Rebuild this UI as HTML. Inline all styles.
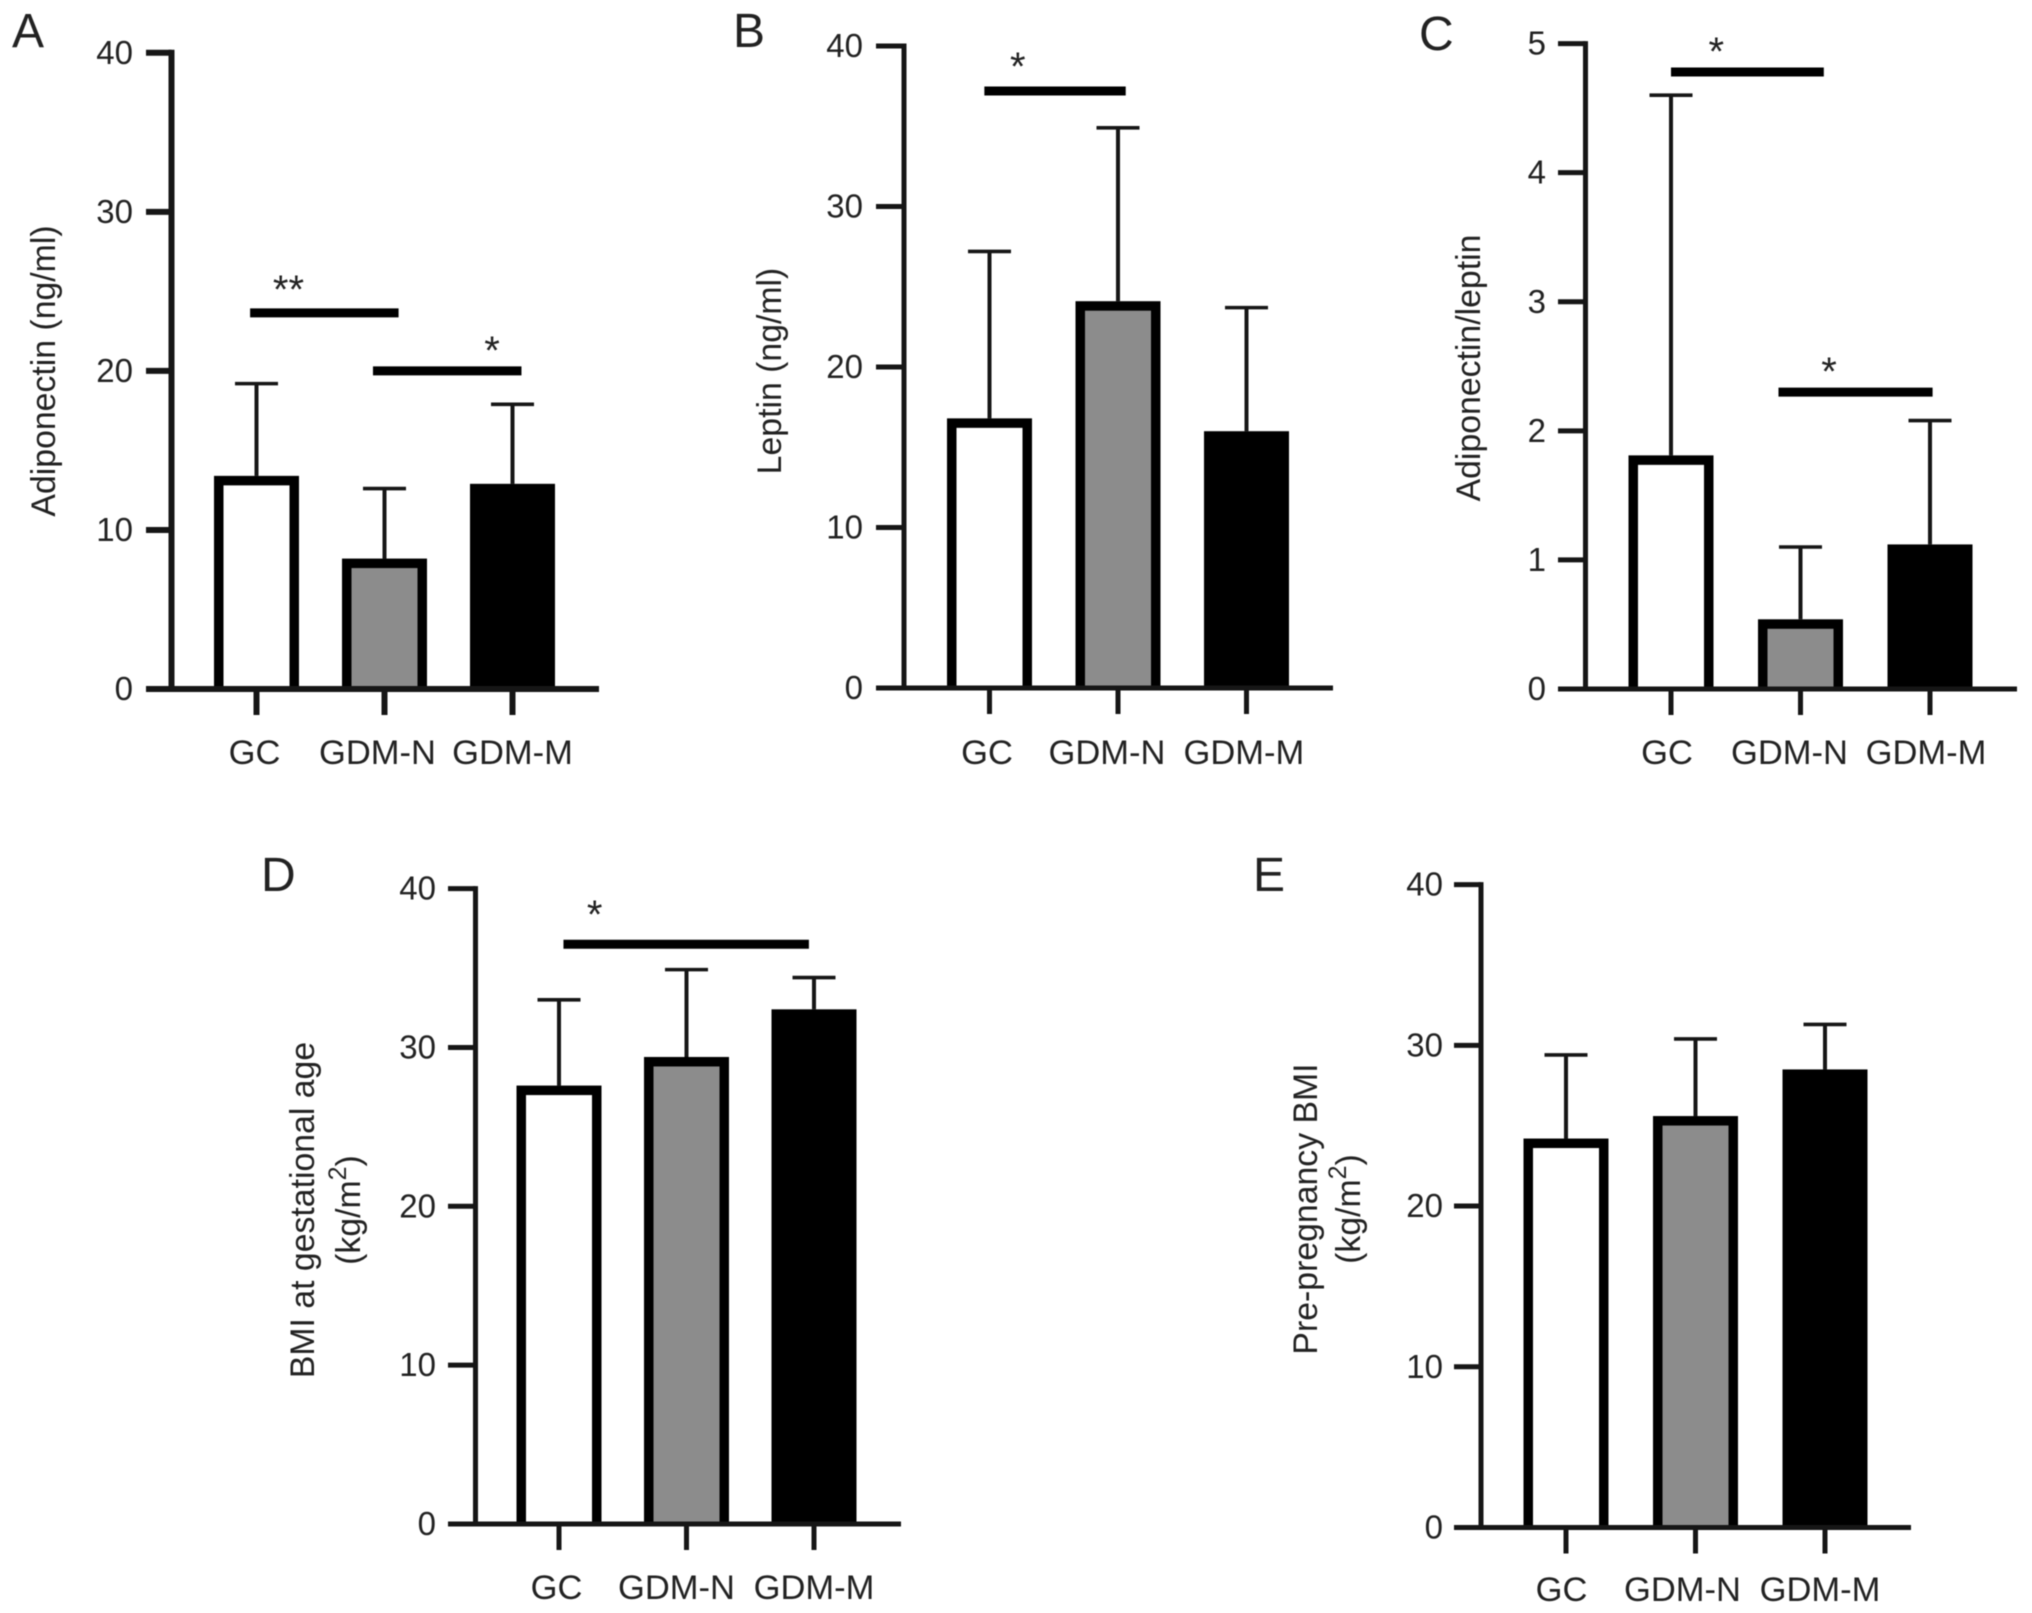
<!DOCTYPE html>
<html lang="en">
<head>
<meta charset="utf-8">
<title>Adipokine and BMI bar charts</title>
<style>
html,body{margin:0;padding:0;background:#fff;}
#figure{display:block;width:2032px;height:1613px;filter:blur(0.6px);}
text{font-family:"Liberation Sans",sans-serif;fill:#222;}
</style>
</head>
<body>
<svg id="figure" xmlns="http://www.w3.org/2000/svg" width="2032" height="1613" viewBox="0 0 2032 1613"></svg>
<script>
const categories = ['GC', 'GDM-N', 'GDM-M'];

const adiponectinMeans = [13.4, 8.2, 12.9];
const adiponectinUpper = [19.2, 12.6, 17.9];
const adiponectinTicks = [0, 10, 20, 30, 40];
const adiponectinSigLevels = [23.65, 20.0];
const adiponectinSigFrom = [-0.05, 0.91];
const adiponectinSigTo = [1.11, 2.07];
const adiponectinSigMarks = ['**', '*'];
const adiponectinSigMarkAt = [0.25, 1.84];

const leptinMeans = [16.8, 24.1, 16.0];
const leptinUpper = [27.2, 34.9, 23.7];
const leptinTicks = [0, 10, 20, 30, 40];
const leptinSigLevels = [37.2];
const leptinSigFrom = [-0.04];
const leptinSigTo = [1.06];
const leptinSigMarks = ['*'];
const leptinSigMarkAt = [0.22];

const ratioMeans = [1.81, 0.54, 1.12];
const ratioUpper = [4.6, 1.1, 2.08];
const ratioTicks = [0, 1, 2, 3, 4, 5];
const ratioSigLevels = [4.78, 2.3];
const ratioSigFrom = [0, 0.83];
const ratioSigTo = [1.18, 2.02];
const ratioSigMarks = ['*', '*'];
const ratioSigMarkAt = [0.35, 1.22];

const gestationalMeans = [27.6, 29.4, 32.4];
const gestationalUpper = [33.0, 34.9, 34.4];
const gestationalTicks = [0, 10, 20, 30, 40];
const gestationalSigLevels = [36.5];
const gestationalSigFrom = [0.035];
const gestationalSigTo = [1.96];
const gestationalSigMarks = ['*'];
const gestationalSigMarkAt = [0.28];

const prePregnancyMeans = [24.2, 25.6, 28.5];
const prePregnancyUpper = [29.4, 30.4, 31.3];
const prePregnancyTicks = [0, 10, 20, 30, 40];

const panels = [
  { id: 'a', letter: 'A', letterX: 12, letterY: 47,
    means: adiponectinMeans, upper: adiponectinUpper, ticks: adiponectinTicks,
    sigLevels: adiponectinSigLevels, sigFrom: adiponectinSigFrom, sigTo: adiponectinSigTo,
    sigMarks: adiponectinSigMarks, sigMarkAt: adiponectinSigMarkAt, markLift: [10, 7],
    axisX: 171.5, yTop: 52.8, yBottom: 689, xEnd: 599, tickLeft: 146, labelRight: 133,
    firstCenter: 256.5, step: 128, axisWidth: 6, catY: 764, maxV: 40, labelOffsets: [-2, -7, 0],
    titleX: 44, titleY: 371, title: 'Adiponectin (ng/ml)', title2: false },
  { id: 'b', letter: 'B', letterX: 733, letterY: 47,
    means: leptinMeans, upper: leptinUpper, ticks: leptinTicks,
    sigLevels: leptinSigLevels, sigFrom: leptinSigFrom, sigTo: leptinSigTo,
    sigMarks: leptinSigMarks, sigMarkAt: leptinSigMarkAt, markLift: [11],
    axisX: 904, yTop: 46, yBottom: 688, xEnd: 1333, tickLeft: 876, labelRight: 863,
    firstCenter: 989.5, step: 128.5, axisWidth: 5, catY: 764, maxV: 40, labelOffsets: [-2.5, -11, -2.6],
    titleX: 770, titleY: 371, title: 'Leptin (ng/ml)', title2: false },
  { id: 'c', letter: 'C', letterX: 1419, letterY: 50,
    means: ratioMeans, upper: ratioUpper, ticks: ratioTicks,
    sigLevels: ratioSigLevels, sigFrom: ratioSigFrom, sigTo: ratioSigTo,
    sigMarks: ratioSigMarks, sigMarkAt: ratioSigMarkAt, markLift: [7, 7],
    axisX: 1585.5, yTop: 43.6, yBottom: 689, xEnd: 2017, tickLeft: 1558, labelRight: 1546,
    firstCenter: 1671, step: 129.5, axisWidth: 5, catY: 764, maxV: 5, labelOffsets: [-4, -11, -4],
    titleX: 1469, titleY: 368, title: 'Adiponectin/leptin', title2: false },
  { id: 'd', letter: 'D', letterX: 261, letterY: 891,
    means: gestationalMeans, upper: gestationalUpper, ticks: gestationalTicks,
    sigLevels: gestationalSigLevels, sigFrom: gestationalSigFrom, sigTo: gestationalSigTo,
    sigMarks: gestationalSigMarks, sigMarkAt: gestationalSigMarkAt, markLift: [16],
    axisX: 475.5, yTop: 888.6, yBottom: 1524, xEnd: 901, tickLeft: 448, labelRight: 436,
    firstCenter: 559, step: 127.5, axisWidth: 5, catY: 1599, maxV: 40, labelOffsets: [-2.5, -10, 0],
    titleX: 303, titleY: 1210, title: 'BMI at gestational age', title2: true, title2X: 349 },
  { id: 'e', letter: 'E', letterX: 1253, letterY: 891,
    means: prePregnancyMeans, upper: prePregnancyUpper, ticks: prePregnancyTicks,
    sigLevels: [], sigFrom: [], sigTo: [], sigMarks: [], sigMarkAt: [], markLift: [],
    axisX: 1481, yTop: 884.6, yBottom: 1527.5, xEnd: 1911, tickLeft: 1454, labelRight: 1443,
    firstCenter: 1566, step: 129.5, axisWidth: 5, catY: 1601, maxV: 40, labelOffsets: [-4.5, -13, -5],
    titleX: 1306, titleY: 1209, title: 'Pre-pregnancy BMI', title2: true, title2X: 1349 }
];

const barFills = ['#ffffff', '#8c8c8c', '#000000'];
const barHalfWidth = 42.5;
const barStroke = 9.5;
const capHalfWidth = 21.5;
const ink = '#161616';

const SVG_NS = 'http://www.w3.org/2000/svg';
const svg = document.getElementById('figure');

function make(parent, tag, attrs, content) {
  const node = document.createElementNS(SVG_NS, tag);
  for (const key in attrs) node.setAttribute(key, attrs[key]);
  if (content !== undefined) node.textContent = content;
  parent.appendChild(node);
  return node;
}

panels.forEach(function (p) {
  const yScale = function (v) { return p.yBottom - (v / p.maxV) * (p.yBottom - p.yTop); };
  const xScale = function (i) { return p.firstCenter + i * p.step; };

  const group = make(svg, 'g', {});
  
  

  const letter = make(group, 'text', { x: p.letterX, y: p.letterY, 'font-size': 48 }, p.letter);
  
  

  const title = make(group, 'text', {
    x: 0, y: 0, 'font-size': 33.8, 'text-anchor': 'middle',
    transform: 'translate(' + p.titleX + ' ' + p.titleY + ') rotate(-90)',
    'dominant-baseline': 'central'
  }, p.title);
  
  

  if (p.title2) {
    const unit = make(group, 'text', {
      x: 0, y: 0, 'font-size': 33.8, 'text-anchor': 'middle',
      transform: 'translate(' + p.title2X + ' ' + p.titleY + ') rotate(-90)',
      'dominant-baseline': 'central'
    }, '(kg/m');
    
    
    const sup = make(unit, 'tspan', { dy: -11, 'font-size': 25 }, '2');
    
    
    const close = make(unit, 'tspan', { dy: 11 }, ')');
    
    
  }

  categories.forEach(function (cat, i) {
    const cx = xScale(i);
    const top = yScale(p.means[i]);
    const errTop = yScale(p.upper[i]);

    const stem = make(group, 'line', { x1: cx, x2: cx, y1: errTop, y2: top, stroke: ink, 'stroke-width': 4 });
    
    

    const cap = make(group, 'line', { x1: cx - capHalfWidth, x2: cx + capHalfWidth, y1: errTop, y2: errTop, stroke: ink, 'stroke-width': 3.6 });
    
    

    const bar = make(group, 'rect', {
      x: cx - barHalfWidth,
      y: top,
      width: 2 * barHalfWidth,
      height: p.yBottom - top,
      fill: '#000'
    });
    
    

    const barFill = make(group, 'rect', {
      x: cx - barHalfWidth + barStroke,
      y: top + barStroke,
      width: 2 * barHalfWidth - 2 * barStroke,
      height: Math.max(0, p.yBottom - top - barStroke),
      fill: barFills[i]
    });
    
    

    const xTick = make(group, 'line', { x1: cx, x2: cx, y1: p.yBottom, y2: p.yBottom + 26, stroke: ink, 'stroke-width': p.axisWidth });
    
    

    const catLabel = make(group, 'text', { x: cx + p.labelOffsets[i], y: p.catY, 'font-size': 34.5, 'text-anchor': 'middle' }, cat);
    
    
  });

  const yAxis = make(group, 'line', { x1: p.axisX, x2: p.axisX, y1: p.yTop - p.axisWidth / 2, y2: p.yBottom + p.axisWidth / 2, stroke: ink, 'stroke-width': p.axisWidth });
  
  

  const xAxis = make(group, 'line', { x1: p.tickLeft, x2: p.xEnd, y1: p.yBottom, y2: p.yBottom, stroke: ink, 'stroke-width': p.axisWidth });
  
  

  p.ticks.forEach(function (t) {
    const y = yScale(t);
    const tick = make(group, 'line', { x1: p.tickLeft, x2: p.axisX, y1: y, y2: y, stroke: ink, 'stroke-width': p.axisWidth });
    
    

    const label = make(group, 'text', { x: p.labelRight, y: y + 11, 'font-size': 33, 'text-anchor': 'end' }, String(t));
    
    
  });

  p.sigLevels.forEach(function (level, k) {
    const y = yScale(level);
    const sigBar = make(group, 'line', { x1: xScale(p.sigFrom[k]), x2: xScale(p.sigTo[k]), y1: y, y2: y, stroke: '#000', 'stroke-width': 9 });
    
    

    const mark = make(group, 'text', { x: xScale(p.sigMarkAt[k]), y: y - p.markLift[k], 'font-size': 40, 'text-anchor': 'middle' }, p.sigMarks[k]);
    
    
  });
});
</script>
</body>
</html>
